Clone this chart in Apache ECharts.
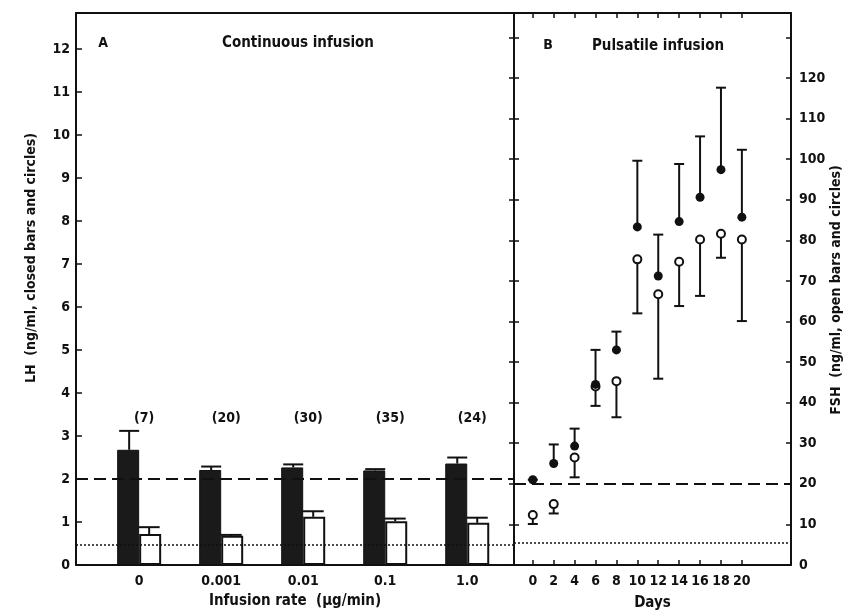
<!DOCTYPE html>
<html><head><meta charset="utf-8">
<script src="https://cdn.jsdelivr.net/npm/echarts@6/dist/echarts.min.js"></script>
<style>html,body{margin:0;padding:0;background:#fff}#c{width:848px;height:611px}</style>
</head><body><div id="c"></div>
<script>
// ---- Panel A: continuous infusion ----
const rates = ['0', '0.001', '0.01', '0.1', '1.0'];
const nLabels = ['(7)', '(20)', '(30)', '(35)', '(24)'];
const lhBar = [2.68, 2.21, 2.27, 2.2, 2.36];       // LH ng/ml (closed bars)
const lhBarErr = [3.12, 2.29, 2.34, 2.23, 2.5];    // mean + SE
const fshBar = [7.2, 6.8, 11.2, 10.2, 9.8];        // FSH ng/ml (open bars)
const fshBarErr = [8.8, 7.0, 12.5, 10.8, 11.0];
// ---- Panel B: pulsatile infusion ----
const days = [0, 2, 4, 6, 8, 10, 12, 14, 16, 18, 20];
const lhPulse = [2.1, 2.5, 2.93, 4.45, 5.3, 8.33, 7.12, 8.46, 9.06, 9.74, 8.57];      // closed circles
const lhPulseHi = [2.1, 2.97, 3.36, 5.3, 5.75, 9.96, 8.14, 9.88, 10.56, 11.76, 10.23];
const fshPulse = [12.3, 15.0, 26.5, 44.0, 45.3, 75.3, 66.7, 74.7, 80.2, 81.6, 80.2]; // open circles
const fshPulseLo = [10.1, 12.7, 21.6, 39.2, 36.4, 62.0, 45.9, 63.8, 66.3, 75.7, 60.1];
// ---- axis ticks / reference lines ----
const lhTicks = [0,1,2,3,4,5,6,7,8,9,10,11,12];
const fshTicks = [0,10,20,30,40,50,60,70,80,90,100,110,120];
const dayTicks = [0,2,4,6,8,10,12,14,16,18,20];
const lhDashed = 2, lhDotted = 0.48, fshDashed = 20, fshDotted = 5.5;
const nLabelLevel = 3.4;

const FONT = "'Liberation Sans Narrow','DejaVu Sans Condensed','Roboto Condensed',sans-serif";
const INK = '#111';
const lbl = {color: INK, fontFamily: FONT, fontWeight: 'bold', fontSize: 14};

function errRender(offset, cap) {
  return function (params, api) {
    const p0 = api.coord([api.value(0), api.value(1)]);
    const p1 = api.coord([api.value(0), api.value(2)]);
    const x = p0[0] + offset;
    return {type: 'group', children: [
      {type: 'line', shape: {x1: x, y1: p0[1], x2: x, y2: p1[1]}, style: {stroke: INK, lineWidth: 2}},
      {type: 'line', shape: {x1: x - cap / 2, y1: p1[1], x2: x + cap / 2, y2: p1[1]}, style: {stroke: INK, lineWidth: 2}}
    ]};
  };
}

const chart = echarts.init(document.getElementById('c'));
const axisLine = {show: true, onZero: false, lineStyle: {color: INK, width: 2}};
const tickStyle = {color: INK, width: 1.5};
chart.setOption({
  animation: false,
  backgroundColor: '#fff',
  grid: [
    {left: 76, top: 13, width: 438, height: 552, outerBoundsMode: 'none', containLabel: false},
    {left: 514, top: 13, width: 277, height: 552, outerBoundsMode: 'none', containLabel: false}
  ],
  xAxis: [
    {type: 'value', gridIndex: 0, min: -0.77, max: 4.57, splitLine: {show: false},
     axisLine: axisLine, axisTick: {show: false},
     axisLabel: Object.assign({customValues: [0,1,2,3,4], margin: 9,
       formatter: v => rates[Math.round(v)]}, lbl),
     name: 'Infusion rate  (\u00b5g/min)', nameLocation: 'middle', nameGap: 29,
     nameTextStyle: Object.assign({}, lbl, {fontSize: 15})},
    {type: 'value', gridIndex: 0, position: 'top', min: -0.77, max: 4.57, splitLine: {show: false},
     axisLine: axisLine, axisTick: {show: false}, axisLabel: {show: false}},
    {type: 'value', gridIndex: 1, min: -1.8, max: 24.7, splitLine: {show: false},
     axisLine: axisLine, axisTick: {customValues: dayTicks, inside: true, length: 5, lineStyle: tickStyle},
     axisLabel: Object.assign({customValues: dayTicks, margin: 9}, lbl),
     name: 'Days', nameLocation: 'middle', nameGap: 31,
     nameTextStyle: Object.assign({}, lbl, {fontSize: 15})},
    {type: 'value', gridIndex: 1, position: 'top', min: -1.8, max: 24.7, splitLine: {show: false},
     axisLine: axisLine, axisTick: {customValues: dayTicks, inside: true, length: 5, lineStyle: tickStyle},
     axisLabel: {show: false}}
  ],
  yAxis: [
    {type: 'value', gridIndex: 0, position: 'left', min: 0, max: 12.84, interval: 1, splitLine: {show: false},
     axisLine: axisLine, axisTick: {inside: true, length: 6, lineStyle: tickStyle},
     axisLabel: Object.assign({customValues: lhTicks, margin: 6}, lbl)},
    {type: 'value', gridIndex: 0, min: 0, max: 128.4, show: false},
    {type: 'value', gridIndex: 0, position: 'right', min: 0, max: 13.6, interval: 1, splitLine: {show: false},
     axisLine: axisLine, axisTick: {inside: true, length: 5, lineStyle: tickStyle},
     axisLabel: {show: false}},
    {type: 'value', gridIndex: 1, position: 'left', min: 0, max: 13.6, interval: 1, splitLine: {show: false},
     axisLine: axisLine, axisTick: {inside: true, length: 5, lineStyle: tickStyle},
     axisLabel: {show: false}},
    {type: 'value', gridIndex: 1, position: 'right', min: 0, max: 136, interval: 10, splitLine: {show: false},
     axisLine: axisLine, axisTick: {inside: true, length: 5, lineStyle: tickStyle},
     axisLabel: Object.assign({customValues: fshTicks, margin: 8}, lbl)}
  ],
  graphic: [
    {type: 'text', x: 103, y: 43, style: {text: 'A', font: "bold 14px " + FONT, fill: INK, align: 'center', verticalAlign: 'middle'}},
    {type: 'text', x: 298, y: 43, style: {text: 'Continuous infusion', font: "bold 15px " + FONT, fill: INK, align: 'center', verticalAlign: 'middle'}},
    {type: 'text', x: 548, y: 45, style: {text: 'B', font: "bold 14px " + FONT, fill: INK, align: 'center', verticalAlign: 'middle'}},
    {type: 'text', x: 658, y: 46, style: {text: 'Pulsatile infusion', font: "bold 15px " + FONT, fill: INK, align: 'center', verticalAlign: 'middle'}},
    {type: 'text', x: 31, y: 258, rotation: Math.PI / 2, style: {text: 'LH  (ng/ml, closed bars and circles)', font: "bold 14px " + FONT, fill: INK, align: 'center', verticalAlign: 'middle'}},
    {type: 'text', x: 836, y: 290, rotation: Math.PI / 2, style: {text: 'FSH  (ng/ml, open bars and circles)', font: "bold 14px " + FONT, fill: INK, align: 'center', verticalAlign: 'middle'}}
  ],
  series: [
    {type: 'line', xAxisIndex: 0, yAxisIndex: 0, data: [], z: 1, symbol: 'none', silent: true,
     markLine: {silent: true, symbol: 'none', label: {show: false},
       data: [{yAxis: lhDashed, lineStyle: {color: INK, width: 2, type: [12, 6]}},
              {yAxis: lhDotted, lineStyle: {color: INK, width: 1.5, type: [2, 2]}}]}},
    {type: 'line', xAxisIndex: 2, yAxisIndex: 4, data: [], z: 1, symbol: 'none', silent: true,
     markLine: {silent: true, symbol: 'none', label: {show: false},
       data: [{yAxis: fshDashed, lineStyle: {color: INK, width: 2, type: [12, 6]}},
              {yAxis: fshDotted, lineStyle: {color: INK, width: 1.5, type: [2, 2]}}]}},
    {type: 'bar', name: 'LH', xAxisIndex: 0, yAxisIndex: 0, z: 3, barWidth: 22, barGap: '0%',
     data: rates.map((r, i) => [i, lhBar[i]]),
     itemStyle: {color: '#1a1a1a', borderColor: INK, borderWidth: 1}},
    {type: 'bar', name: 'FSH', xAxisIndex: 0, yAxisIndex: 1, z: 3, barWidth: 22, barGap: '0%',
     data: rates.map((r, i) => [i, fshBar[i]]),
     itemStyle: {color: '#fff', borderColor: INK, borderWidth: 2}},
    {type: 'custom', xAxisIndex: 0, yAxisIndex: 0, z: 4, renderItem: errRender(-10, 20),
     encode: {x: 0, y: [1, 2]}, data: rates.map((r, i) => [i, lhBar[i], lhBarErr[i]])},
    {type: 'custom', xAxisIndex: 0, yAxisIndex: 1, z: 4, renderItem: errRender(10, 21),
     encode: {x: 0, y: [1, 2]}, data: rates.map((r, i) => [i, fshBar[i], fshBarErr[i]])},
    {type: 'scatter', xAxisIndex: 0, yAxisIndex: 0, z: 5, symbolSize: 0,
     itemStyle: {color: 'rgba(0,0,0,0)', opacity: 1},
     data: rates.map((r, i) => [i, nLabelLevel]),
     label: Object.assign({show: true, position: 'inside', offset: [5, 0], formatter: p => nLabels[p.dataIndex]}, lbl)},
    {type: 'custom', xAxisIndex: 2, yAxisIndex: 3, z: 4, renderItem: errRender(0, 10),
     encode: {x: 0, y: [1, 2]}, data: days.map((d, i) => [d, lhPulse[i], lhPulseHi[i]])},
    {type: 'custom', xAxisIndex: 2, yAxisIndex: 4, z: 4, renderItem: errRender(0, 10),
     encode: {x: 0, y: [1, 2]}, data: days.map((d, i) => [d, fshPulse[i], fshPulseLo[i]])},
    {type: 'scatter', xAxisIndex: 2, yAxisIndex: 4, z: 5, symbol: 'circle', symbolSize: 8,
     data: days.map((d, i) => [d, fshPulse[i]]),
     itemStyle: {color: '#fff', borderColor: INK, borderWidth: 2, opacity: 1}},
    {type: 'scatter', xAxisIndex: 2, yAxisIndex: 3, z: 6, symbol: 'circle', symbolSize: 9,
     data: days.map((d, i) => [d, lhPulse[i]]),
     itemStyle: {color: INK, opacity: 1}}
  ]
});
</script></body></html>
